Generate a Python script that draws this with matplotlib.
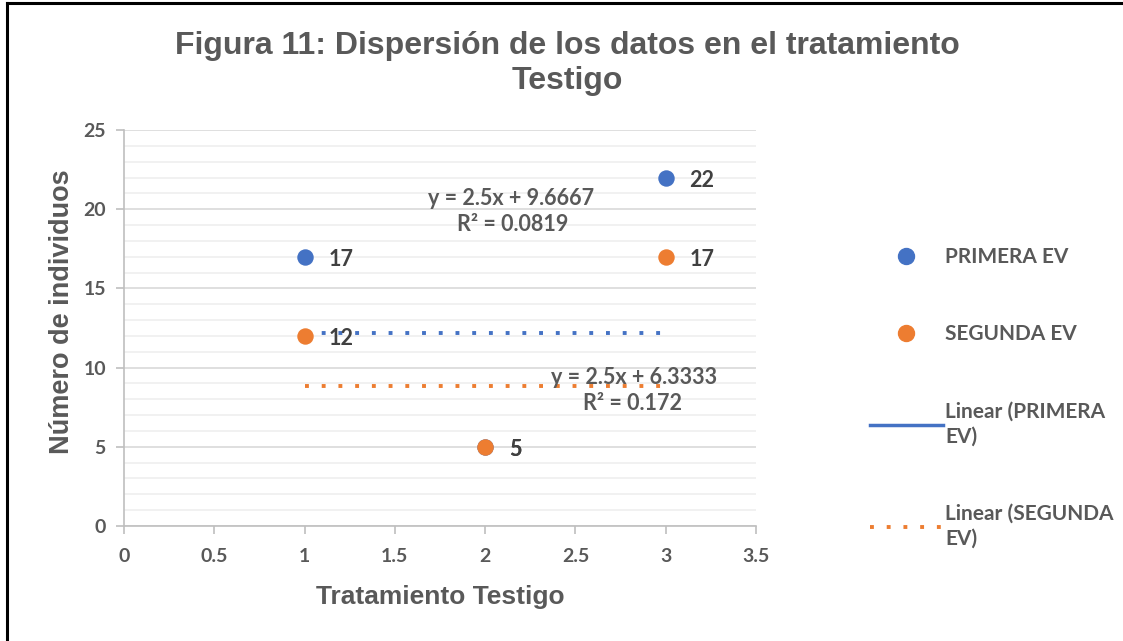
import matplotlib
matplotlib.use("Agg")
import matplotlib.pyplot as plt
from matplotlib.lines import Line2D
import numpy as np

# --- Datos ---
tratamiento = [1, 2, 3]
primera_ev = [17, 5, 22]
segunda_ev = [12, 5, 17]

# tendencias lineales (tal como se ven en el gráfico original)
pendiente_primera, intercepto_primera, r2_primera = 2.5, 9.6667, 0.0819
pendiente_segunda, intercepto_segunda, r2_segunda = 2.5, 6.3333, 0.172

AZUL = "#4472C4"
NARANJA = "#ED7D31"
GRIS_TEXTO = "#595959"
GRIS_ETIQ = "#404040"

fig = plt.figure(figsize=(11.23, 6.41), dpi=100)
ax = fig.add_axes([0.1104, 0.1794, 0.5628, 0.6178])

# puntos
ax.scatter(tratamiento, primera_ev, s=140, color=AZUL, zorder=4, linewidths=0)
ax.scatter(tratamiento, segunda_ev, s=140, color=NARANJA, zorder=5, linewidths=0)

# lineas de tendencia (dibujadas planas como en el original)
x_tend = np.array([tratamiento[0], tratamiento[-1]])
y_prim = np.full(2, pendiente_primera * tratamiento[0] + intercepto_primera)
y_seg = np.full(2, pendiente_segunda * tratamiento[0] + intercepto_segunda)
ax.plot(x_tend, y_prim, color=AZUL, lw=2.8, linestyle=(0, (1, 3.3)), zorder=3)
ax.plot(x_tend, y_seg, color=NARANJA, lw=2.8, linestyle=(0, (1, 3.3)), zorder=3)

# etiquetas de datos
fuente_etq = dict(family="Lato", weight="bold", size=15.5, color=GRIS_ETIQ)
for x, y in zip(tratamiento, primera_ev):
    ax.annotate(str(y), (x, y), xytext=(17, -2), textcoords="offset points",
                va="center", ha="left", zorder=6, **fuente_etq)
for x, y in zip(tratamiento, segunda_ev):
    ax.annotate(str(y), (x, y), xytext=(17, -2), textcoords="offset points",
                va="center", ha="left", zorder=6, **fuente_etq)

# ecuaciones
fuente_ec = dict(family="Lato", weight="bold", size=15.5, color=GRIS_TEXTO, ha="center")
ax.text(2.145, 20.7, f"y = {pendiente_primera}x + {intercepto_primera}", va="center", **fuente_ec)
ax.text(2.15, 19.05, f"R² = {r2_primera}", va="center", **fuente_ec)
ax.text(2.825, 9.35, f"y = {pendiente_segunda}x + {intercepto_segunda}", va="center", **fuente_ec)
ax.text(2.815, 7.75, f"R² = {r2_segunda}", va="center", **fuente_ec)

# ejes
ax.set_xlim(0, 3.5)
ax.set_ylim(0, 25)
ax.set_xticks(np.arange(0, 3.51, 0.5))
ax.set_xticklabels(["0", "0.5", "1", "1.5", "2", "2.5", "3", "3.5"])
ax.set_yticks(np.arange(0, 26, 5))
ax.set_yticks(np.arange(0, 26, 1), minor=True)
ax.grid(which="major", axis="y", color="#D9D9D9", lw=1.2, zorder=0)
ax.grid(which="minor", axis="y", color="#EFEFEF", lw=1.2, zorder=0)
ax.set_axisbelow(True)
for lado in ["top", "right"]:
    ax.spines[lado].set_visible(False)
for lado in ["left", "bottom"]:
    ax.spines[lado].set_color("#BFBFBF")
    ax.spines[lado].set_linewidth(1.2)
ax.tick_params(axis="both", which="major", color="#BFBFBF", length=6, width=1.2,
               labelcolor=GRIS_TEXTO, labelsize=14)
ax.tick_params(axis="x", pad=10)
ax.tick_params(axis="y", pad=7)
ax.tick_params(axis="y", which="minor", length=0)
for lbl in ax.get_xticklabels() + ax.get_yticklabels():
    lbl.set_family("Lato")
    lbl.set_weight("bold")

ax.set_xlabel("Tratamiento Testigo", family="Liberation Sans", weight="bold",
              size=19, color=GRIS_TEXTO, labelpad=14)
ax.set_ylabel("Número de individuos", family="Liberation Sans", weight="bold",
              size=19.5, color=GRIS_TEXTO, labelpad=6)
ax.yaxis.label.set_y(0.54)

fig.suptitle("Figura 11: Dispersión de los datos en el tratamiento\nTestigo",
             x=0.5053, y=0.951, va="top", family="Liberation Sans", weight="bold",
             size=23, color=GRIS_TEXTO, linespacing=1.22)

# leyenda
manejadores = [
    Line2D([], [], marker="o", color=AZUL, linestyle="none", markersize=11.5),
    Line2D([], [], marker="o", color=NARANJA, linestyle="none", markersize=11.5),
    Line2D([], [], color=AZUL, lw=2.5),
    Line2D([], [], color=NARANJA, lw=2.8, linestyle=(0, (1, 3.3))),
]
etiquetas = ["PRIMERA EV", "SEGUNDA EV", "Linear (PRIMERA\nEV)", "Linear (SEGUNDA\nEV)"]
leyenda = fig.legend(manejadores, etiquetas, loc="upper left", bbox_to_anchor=(0.758, 0.644),
                     frameon=False, labelspacing=2.75, handlelength=3.5, handletextpad=0.1,
                     prop=dict(family="Lato", weight="bold", size=15), labelcolor=GRIS_TEXTO)
for t in leyenda.get_texts():
    t.set_linespacing(1.3)

# marco superior e izquierdo
fig.add_artist(Line2D([0.006, 1.0], [0.996, 0.996], color="black", lw=2.2,
                      transform=fig.transFigure))
fig.add_artist(Line2D([0.006, 0.006], [0.0, 0.996], color="black", lw=2.2,
                      transform=fig.transFigure))

fig.savefig("out.png", dpi=100)
